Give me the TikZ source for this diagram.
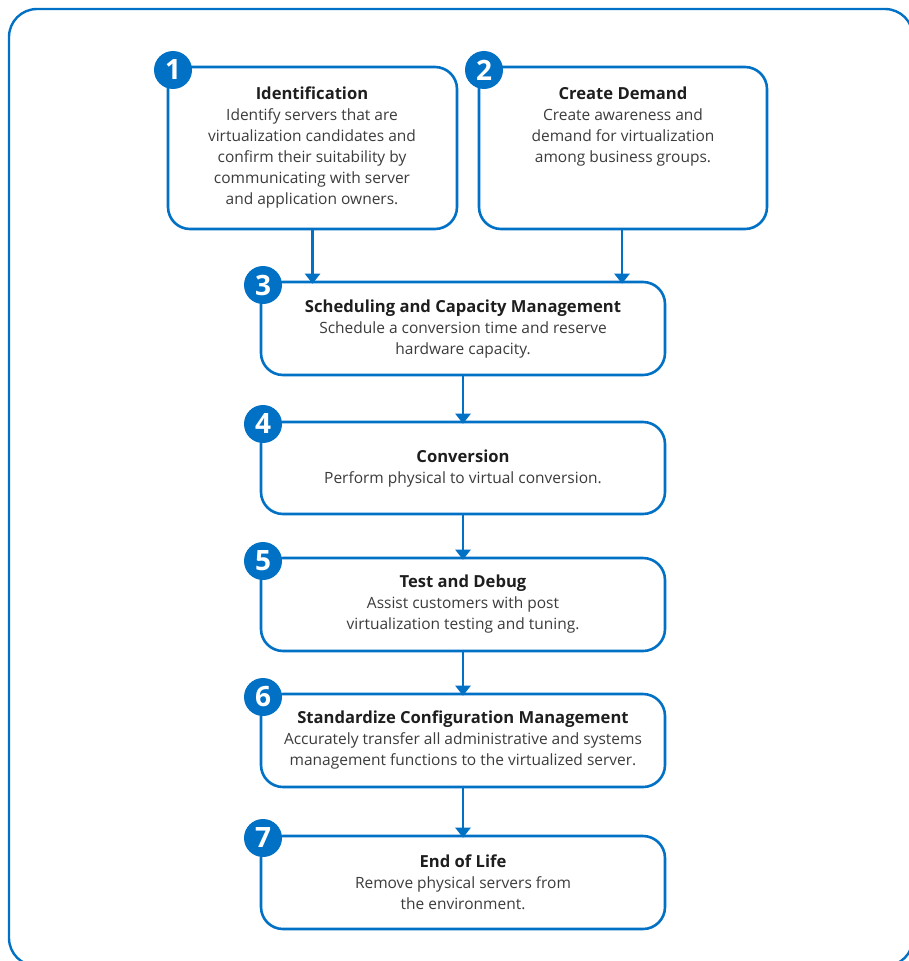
\documentclass[tikz,border=0pt]{standalone}
\usepackage{fontspec}
\setmainfont{Open Sans}
\usetikzlibrary{arrows.meta}
\definecolor{iblue}{RGB}{0,113,197}
\definecolor{bodygray}{RGB}{60,60,60}
\definecolor{titleblack}{RGB}{30,30,30}
\newcommand{\steptitle}[1]{{\color{titleblack}\fontsize{16.6}{21}\selectfont\bfseries #1}}
\begin{document}
\begin{tikzpicture}[x=1pt,y=-1pt,
  stepbox/.style={draw=iblue, line width=2.6pt, rounded corners=22pt, rectangle, fill=white},
  steptext/.style={anchor=north, align=center, inner sep=0pt, text=bodygray,
    font=\fontsize{15.5}{21}\selectfont},
  badge/.style={circle, fill=iblue, minimum size=38pt, inner sep=0pt, text=white,
    font=\fontsize{28}{28}\selectfont\bfseries},
  flow/.style={draw=iblue, line width=2.4pt, -{Triangle[width=15pt,length=10pt]}},
  frame/.style={draw=iblue, line width=2.4pt, rounded corners=28pt}]
\useasboundingbox (0,0) rectangle (909,961);
% outer frame
\draw[frame] (9,9) rectangle (913,966);

% step boxes
\node[stepbox, minimum width=289pt, minimum height=162pt] (b1) at (312.5,148) {};
\node[stepbox, minimum width=288pt, minimum height=162pt] (b2) at (623,148) {};
\node[stepbox, minimum width=404pt, minimum height=93pt] (b3) at (463,328.5) {};
\node[stepbox, minimum width=404pt, minimum height=92pt] (b4) at (463,468) {};
\node[stepbox, minimum width=404pt, minimum height=93pt] (b5) at (463,604.5) {};
\node[stepbox, minimum width=404pt, minimum height=93pt] (b6) at (463,740.5) {};
\node[stepbox, minimum width=404pt, minimum height=93pt] (b7) at (463,882.5) {};

% step texts
\node[steptext] (t1) at (312,87) {\steptitle{Identification}\\Identify servers that are\\virtualization candidates and\\confirm their suitability by\\communicating with server\\and application owners.};
\node[steptext] (t2) at (623,87) {\steptitle{Create Demand}\\Create awareness and\\demand for virtualization\\among business groups.};
\node[steptext] (t3) at (463,300) {\steptitle{Scheduling and Capacity Management}\\Schedule a conversion time and reserve\\hardware capacity.};
\node[steptext] (t4) at (463,450) {\steptitle{Conversion}\\Perform physical to virtual conversion.};
\node[steptext] (t5) at (463,575) {\steptitle{Test and Debug}\\Assist customers with post\\virtualization testing and tuning.};
\node[steptext] (t6) at (463,711) {\steptitle{Standardize Configuration Management}\\Accurately transfer all administrative and systems\\management functions to the virtualized server.};
\node[steptext] (t7) at (463,855) {\steptitle{End of Life}\\Remove physical servers from\\the environment.};

% numbered badges
\node[badge] (n1) at (173,70) {1};
\node[badge] (n2) at (484,70) {2};
\node[badge] (n3) at (263,285) {3};
\node[badge] (n4) at (263,424) {4};
\node[badge] (n5) at (263,561) {5};
\node[badge] (n6) at (263,697) {6};
\node[badge] (n7) at (263,838) {7};

% connectors
\draw[flow] (b1.south) -- ([yshift=-3pt]b1.south |- b3.north);
\draw[flow] ([xshift=-1pt]b2.south) -- ([xshift=-1pt,yshift=-3pt]b2.south |- b3.north);
\draw[flow] (b3.south) -- ([yshift=-3pt]b4.north);
\draw[flow] (b4.south) -- ([yshift=-3pt]b5.north);
\draw[flow] (b5.south) -- ([yshift=-3pt]b6.north);
\draw[flow] (b6.south) -- ([yshift=-3pt]b7.north);
\end{tikzpicture}
\end{document}
